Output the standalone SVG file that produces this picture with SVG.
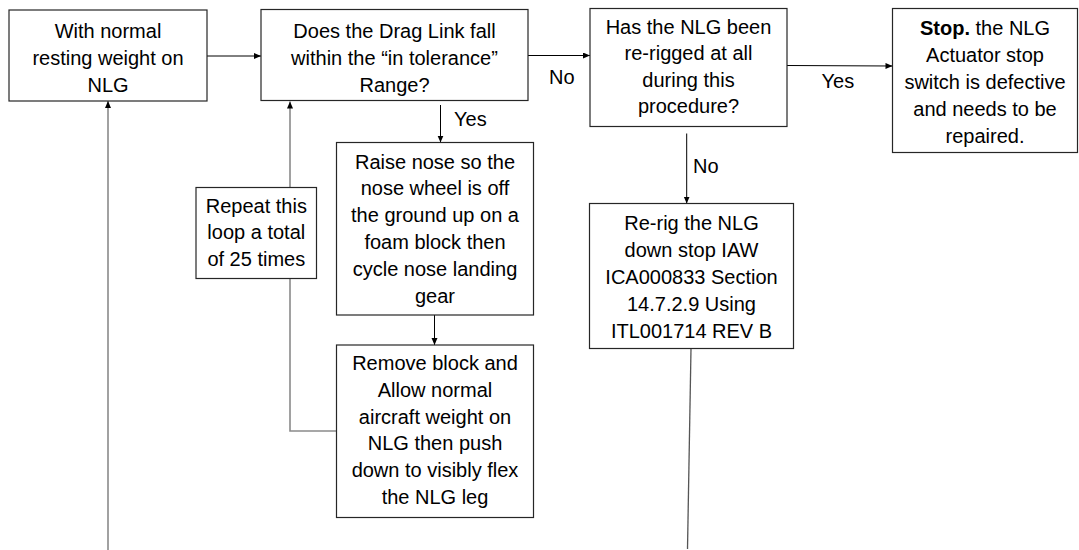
<svg xmlns="http://www.w3.org/2000/svg" width="1079" height="550" viewBox="0 0 1079 550">
<style>
.box{fill:#fff;stroke:#262626;stroke-width:1.2}
.t{font-family:"Liberation Sans",Arial,sans-serif;font-size:20px;fill:#000;text-anchor:middle}
.lbl{font-family:"Liberation Sans",Arial,sans-serif;font-size:20px;fill:#000}
.c{fill:none;stroke:#000;stroke-width:1}
.g{fill:none;stroke:#8a8a8a;stroke-width:1.6}
</style>
<defs>
<marker id="ah" markerUnits="userSpaceOnUse" markerWidth="8" markerHeight="7" refX="7" refY="3" orient="auto">
<path d="M0,0 L7,3 L0,6 z" fill="#000"/>
</marker>
</defs>
<rect width="1079" height="550" fill="#fff"/>
<g id="connectors">
<line class="c" x1="207" y1="56" x2="261" y2="56" marker-end="url(#ah)"/>
<line class="c" x1="528" y1="55.5" x2="590" y2="55.5" marker-end="url(#ah)"/>
<line class="c" x1="787" y1="65.5" x2="892.5" y2="66" marker-end="url(#ah)"/>
<line class="c" x1="440.5" y1="105" x2="440.5" y2="142.5" marker-end="url(#ah)"/>
<line class="c" x1="434.5" y1="315" x2="434.5" y2="345" marker-end="url(#ah)"/>
<line class="c" x1="686.7" y1="133.5" x2="686.7" y2="203.5" marker-end="url(#ah)"/>
<path class="g" d="M336.5,431 H290 V101.5" marker-end="url(#ah)"/>
<line class="g" x1="108" y1="550" x2="108" y2="101" marker-end="url(#ah)"/>
<line x1="691" y1="348.5" x2="687.5" y2="549" stroke="#555" stroke-width="1.3"/>
<text class="lbl" x="454" y="126">Yes</text>
<text class="lbl" x="549" y="83.5">No</text>
<text class="lbl" x="821.5" y="87.5">Yes</text>
<text class="lbl" x="693" y="173">No</text>
</g>
<g id="n1">
<rect class="box" x="9" y="10" width="198" height="91"/>
<text class="t" x="108" y="37.5">With normal</text>
<text class="t" x="108" y="64.5">resting weight on</text>
<text class="t" x="108" y="91.5">NLG</text>
</g>
<g id="n2">
<rect class="box" x="261" y="9.5" width="267" height="91"/>
<text class="t" x="394.5" y="37.5">Does the Drag Link fall</text>
<text class="t" x="394.5" y="64.5">within the “in tolerance”</text>
<text class="t" x="394.5" y="91.5">Range?</text>
</g>
<g id="n3">
<rect class="box" x="590" y="8.5" width="197" height="118"/>
<text class="t" x="688.5" y="33.5">Has the NLG been</text>
<text class="t" x="688.5" y="60">re-rigged at all</text>
<text class="t" x="688.5" y="86.5">during this</text>
<text class="t" x="688.5" y="113">procedure?</text>
</g>
<g id="n4">
<rect class="box" x="892.5" y="8.5" width="185" height="144"/>
<text class="t" x="985" y="35"><tspan font-weight="bold">Stop.</tspan> the NLG</text>
<text class="t" x="985" y="62">Actuator stop</text>
<text class="t" x="985" y="89">switch is defective</text>
<text class="t" x="985" y="116">and needs to be</text>
<text class="t" x="985" y="143">repaired.</text>
</g>
<g id="n5">
<rect class="box" x="336.5" y="142.5" width="197" height="172.5"/>
<text class="t" x="435" y="168.5">Raise nose so the</text>
<text class="t" x="435" y="195.3">nose wheel is off</text>
<text class="t" x="435" y="222.1">the ground up on a</text>
<text class="t" x="435" y="248.9">foam block then</text>
<text class="t" x="435" y="275.7">cycle nose landing</text>
<text class="t" x="435" y="302.5">gear</text>
</g>
<g id="n6">
<rect class="box" x="196" y="187.5" width="120.5" height="91"/>
<text class="t" x="256.3" y="212.7">Repeat this</text>
<text class="t" x="256.3" y="239.4">loop a total</text>
<text class="t" x="256.3" y="266">of 25 times</text>
</g>
<g id="n7">
<rect class="box" x="336.5" y="345" width="197" height="172.5"/>
<text class="t" x="435" y="370">Remove block and</text>
<text class="t" x="435" y="396.8">Allow normal</text>
<text class="t" x="435" y="423.6">aircraft weight on</text>
<text class="t" x="435" y="450.4">NLG then push</text>
<text class="t" x="435" y="477.2">down to visibly flex</text>
<text class="t" x="435" y="504">the NLG leg</text>
</g>
<g id="n8">
<rect class="box" x="589.5" y="203.5" width="204" height="145"/>
<text class="t" x="691.5" y="230">Re-rig the NLG</text>
<text class="t" x="691.5" y="257">down stop IAW</text>
<text class="t" x="691.5" y="284">ICA000833 Section</text>
<text class="t" x="691.5" y="311">14.7.2.9 Using</text>
<text class="t" x="691.5" y="338">ITL001714 REV B</text>
</g>
</svg>
